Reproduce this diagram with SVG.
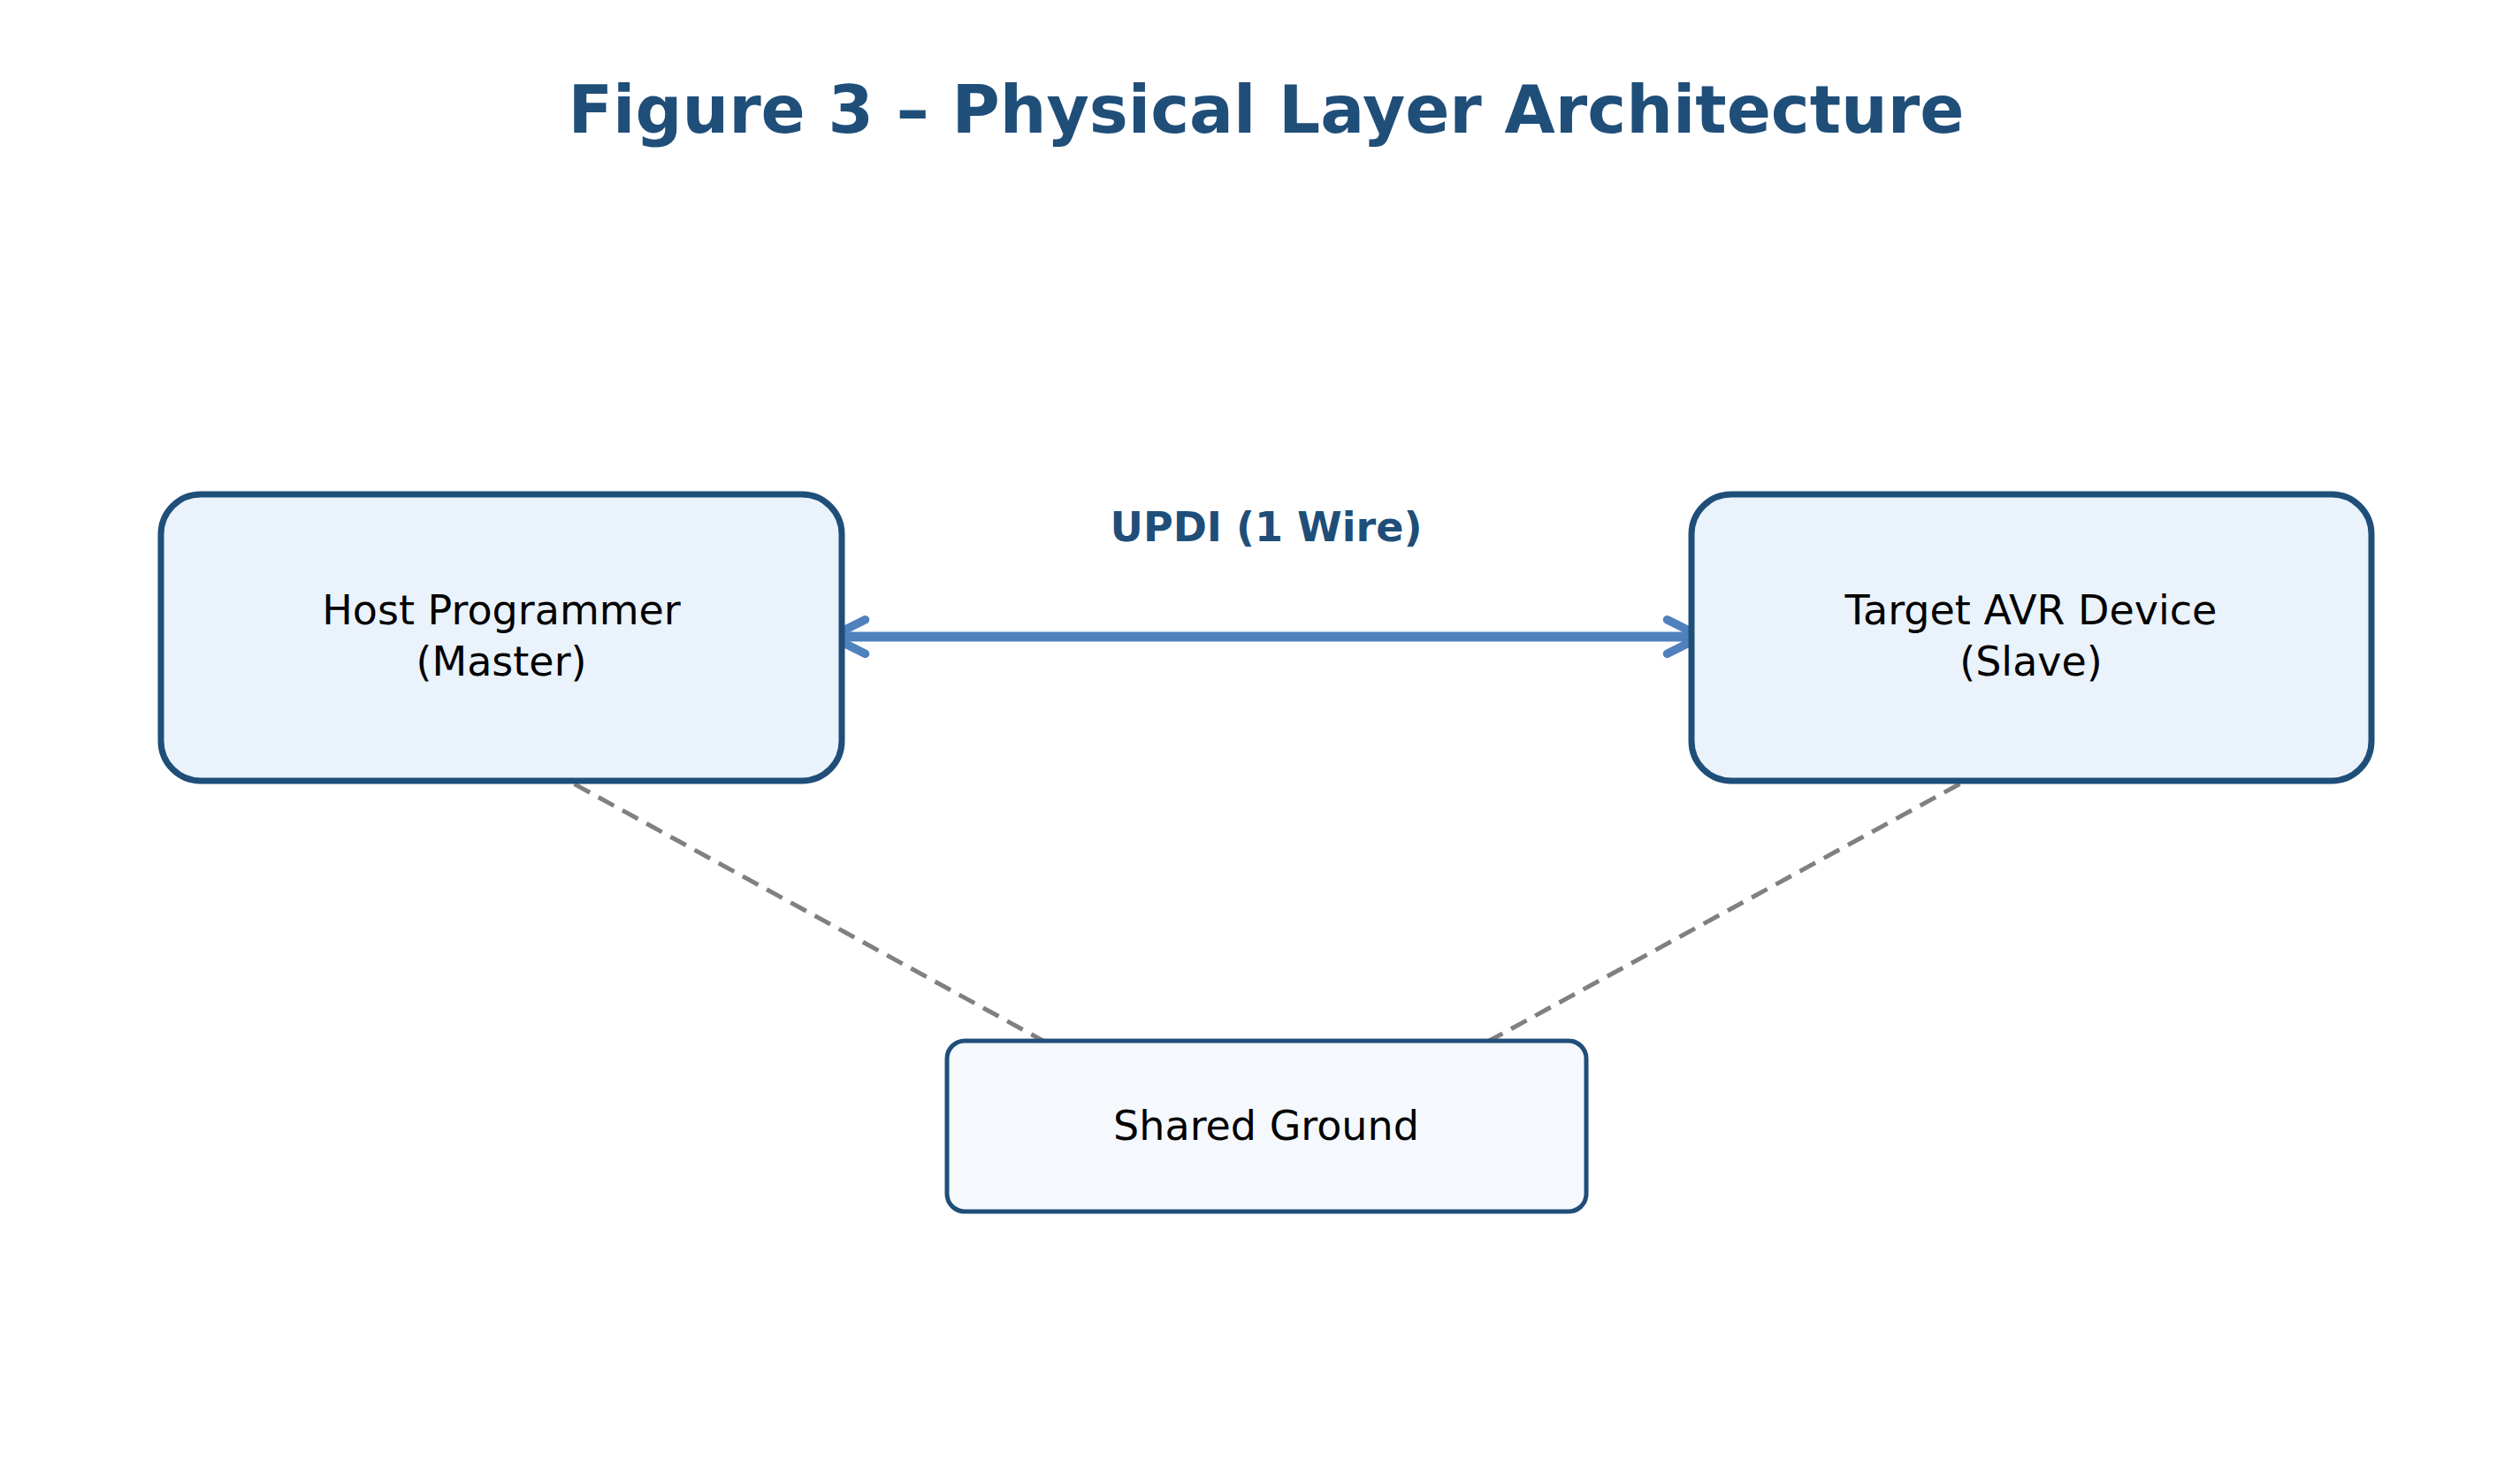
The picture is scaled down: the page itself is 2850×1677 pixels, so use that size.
<svg xmlns="http://www.w3.org/2000/svg" width="2850" height="1677" viewBox="0 0 2850 1677">
<style>
text{font-family:"DejaVu Sans",sans-serif;text-anchor:middle}
.lbl{font-size:46px;fill:#000}
.main{fill:#eaf2fb;stroke:#1f4e79;stroke-width:7}
.dash{stroke:#808080;stroke-width:5;stroke-dasharray:20 11;fill:none}
</style>
<defs>
<marker id="ah" viewBox="0 0 20 20" refX="17" refY="10" markerWidth="5" markerHeight="5" orient="auto-start-reverse" markerUnits="strokeWidth">
<path d="M3,3 L17,10 L3,17" fill="none" stroke="#4f81bd" stroke-width="3.5" stroke-linecap="round" stroke-linejoin="round"/>
</marker>
</defs>
<rect width="2850" height="1677" fill="#fff"/>
<text x="1432" y="150" font-size="74" font-weight="bold" fill="#1f4e79">Figure 3 – Physical Layer Architecture</text>
<g id="connectors">
<line class="dash" x1="568" y1="842" x2="1222" y2="1200"/>
<line class="dash" x1="2298" y1="842" x2="1642" y2="1200"/>
<line x1="940" y1="720" x2="1924" y2="720" stroke="#4f81bd" stroke-width="11" marker-start="url(#ah)" marker-end="url(#ah)"/>
<text x="1432" y="612" font-size="46" font-weight="bold" fill="#1f4e79">UPDI (1 Wire)</text>
</g>
<g id="host">
<rect class="main" x="182" y="559" width="770" height="324" rx="45"/>
<text class="lbl" x="567" y="706">Host Programmer</text>
<text class="lbl" x="567" y="764">(Master)</text>
</g>
<g id="target">
<rect class="main" x="1913" y="559" width="769" height="324" rx="45"/>
<text class="lbl" x="2297" y="706">Target AVR Device</text>
<text class="lbl" x="2297" y="764">(Slave)</text>
</g>
<g id="ground">
<rect x="1071" y="1177" width="723" height="193" rx="20" fill="#f5f9fe" stroke="#1f4e79" stroke-width="5"/>
<text class="lbl" x="1432" y="1289">Shared Ground</text>
</g>
</svg>
